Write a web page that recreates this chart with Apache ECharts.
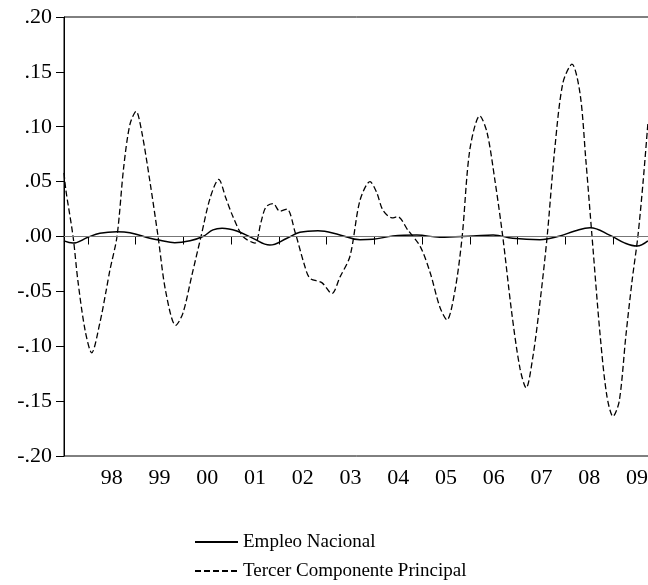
<!DOCTYPE html>
<html>
<head>
<meta charset="utf-8">
<script src="https://cdn.jsdelivr.net/npm/echarts@6/dist/echarts.min.js"></script>
<style>
  html, body { margin: 0; padding: 0; background: #fff; overflow: hidden; }
  #chart { width: 648px; height: 585px; }
</style>
</head>
<body>
<div id="chart"></div>
<script>
// fechas en años decimales (datos mensuales, 1997:07 - 2009:09)
var empleoYears = [1997.50, 1997.69, 1998.00, 1998.25, 1998.61, 1998.88, 1999.30, 1999.51, 1999.82, 2000.14,
  2000.41, 2000.62, 2000.81, 2001.12, 2001.46, 2001.81, 2002.17, 2002.44, 2002.82, 2003.28,
  2003.70, 2003.97, 2004.39, 2004.89, 2005.37, 2006.07, 2006.49, 2006.90, 2007.47, 2007.89,
  2008.20, 2008.52, 2008.94, 2009.25, 2009.50, 2009.73];
var empleoValues = [-0.004, -0.006, -0.0007, 0.003, 0.0044, 0.0035, -0.0016, -0.0035, -0.0056, -0.0038,
  0.0, 0.006, 0.0075, 0.005, -0.0017, -0.0078, -0.0016, 0.0038, 0.0053, 0.0014,
  -0.003, -0.0026, 0.0005, 0.0014, -0.0007, 0.0005, 0.0014, -0.0017, -0.003, 0.0005,
  0.005, 0.008, 0.001, -0.006, -0.0087, -0.004];

var tercerYears = [1997.50, 1997.54, 1997.69, 1997.79, 1997.94, 1998.08, 1998.25, 1998.38, 1998.46, 1998.61,
  1998.75, 1998.88, 1999.01, 1999.13, 1999.30, 1999.47, 1999.63, 1999.84, 1999.99, 2000.18,
  2000.37, 2000.56, 2000.74, 2000.89, 2001.04, 2001.25, 2001.50, 2001.62, 2001.73, 2001.88,
  2002.02, 2002.17, 2002.34, 2002.53, 2002.65, 2002.90, 2003.11, 2003.28, 2003.49, 2003.70,
  2003.91, 2004.05, 2004.18, 2004.37, 2004.49, 2004.70, 2004.96, 2005.17, 2005.37, 2005.52,
  2005.69, 2005.84, 2006.00, 2006.21, 2006.36, 2006.53, 2006.69, 2006.88, 2007.05, 2007.18,
  2007.32, 2007.47, 2007.62, 2007.78, 2007.95, 2008.14, 2008.31, 2008.43, 2008.56, 2008.73,
  2008.87, 2009.00, 2009.13, 2009.27, 2009.40, 2009.52, 2009.63, 2009.73];
var tercerValues = [0.058, 0.042, 0.0, -0.040, -0.085, -0.106, -0.079, -0.05, -0.031, 0.0,
  0.063, 0.102, 0.114, 0.095, 0.05, 0.0, -0.05, -0.081, -0.07, -0.035,
  0.0, 0.035, 0.052, 0.035, 0.018, 0.0, -0.006, 0.012, 0.027, 0.030,
  0.023, 0.025, 0.004, -0.025, -0.038, -0.042, -0.052, -0.037, -0.018, 0.033,
  0.050, 0.040, 0.024, 0.017, 0.018, 0.006, -0.009, -0.033, -0.064, -0.076,
  -0.049, 0.0, 0.079, 0.110, 0.095, 0.05, 0.0, -0.07, -0.12, -0.138,
  -0.11, -0.06, 0.0, 0.08, 0.14, 0.157, 0.13, 0.07, 0.0, -0.09,
  -0.145, -0.164, -0.15, -0.09, -0.04, 0.0, 0.05, 0.103];

var yearTicks = [1998, 1999, 2000, 2001, 2002, 2003, 2004, 2005, 2006, 2007, 2008, 2009];
var yearLabels = ['98', '99', '00', '01', '02', '03', '04', '05', '06', '07', '08', '09'];

function pairs(xs, ys) {
  return xs.map(function (x, i) { return [x, ys[i]]; });
}

var font = '"Liberation Serif", "Times New Roman", serif';

function legendRow(name, top) {
  return {
    orient: 'vertical',
    left: 189,
    top: top,
    itemWidth: 43,
    itemHeight: 14,
    itemStyle: { opacity: 0 },
    textStyle: { fontFamily: font, fontSize: 19, color: '#000', lineHeight: 20 },
    data: [name]
  };
}

var chart = echarts.init(document.getElementById('chart'));
chart.setOption({
  animation: false,
  backgroundColor: '#fff',
  // el marco sigue más allá del borde derecho, como en el original
  grid: {
    left: 64, top: 17, width: 592, height: 439,
    outerBoundsMode: 'none',
    show: true, borderColor: '#000', borderWidth: 1
  },
  legend: [
    legendRow('Empleo Nacional', 527),
    legendRow('Tercer Componente Principal', 556)
  ],
  xAxis: {
    type: 'value',
    min: 1997.5,
    max: 2009.9,
    splitLine: { show: false },
    axisLine: { lineStyle: { color: '#000', width: 1 } },
    axisTick: { length: 8, lineStyle: { color: '#000' }, customValues: yearTicks },
    axisLabel: {
      customValues: yearTicks.map(function (y) { return y + 0.5; }),
      formatter: function (v) { return yearLabels[yearTicks.indexOf(Math.round(v - 0.5))] || ''; },
      fontFamily: font, fontSize: 22, color: '#000', margin: 11
    }
  },
  yAxis: {
    type: 'value',
    min: -0.2,
    max: 0.2,
    interval: 0.05,
    splitLine: { show: false },
    axisLine: { show: true, lineStyle: { color: '#000', width: 1 } },
    axisTick: { show: true, length: 8, lineStyle: { color: '#000' } },
    axisLabel: {
      formatter: function (v) { return v.toFixed(2).replace('0.', '.'); },
      fontFamily: font, fontSize: 22, color: '#000', margin: 12
    }
  },
  series: [
    {
      name: 'Empleo Nacional',
      type: 'line',
      symbol: 'none',
      smooth: 0.4,
      data: pairs(empleoYears, empleoValues),
      lineStyle: { color: '#000', width: 1.5 },
      itemStyle: { color: '#000' },
      markLine: {
        silent: true,
        symbol: 'none',
        label: { show: false },
        lineStyle: { color: '#777', width: 1, type: 'solid' },
        data: [{ yAxis: 0 }]
      },
      z: 3
    },
    {
      name: 'Tercer Componente Principal',
      type: 'line',
      symbol: 'none',
      smooth: 0.3,
      data: pairs(tercerYears, tercerValues),
      lineStyle: { color: '#000', width: 1.3, type: [6, 3] },
      itemStyle: { color: '#000' },
      z: 2
    }
  ]
});
</script>
</body>
</html>
